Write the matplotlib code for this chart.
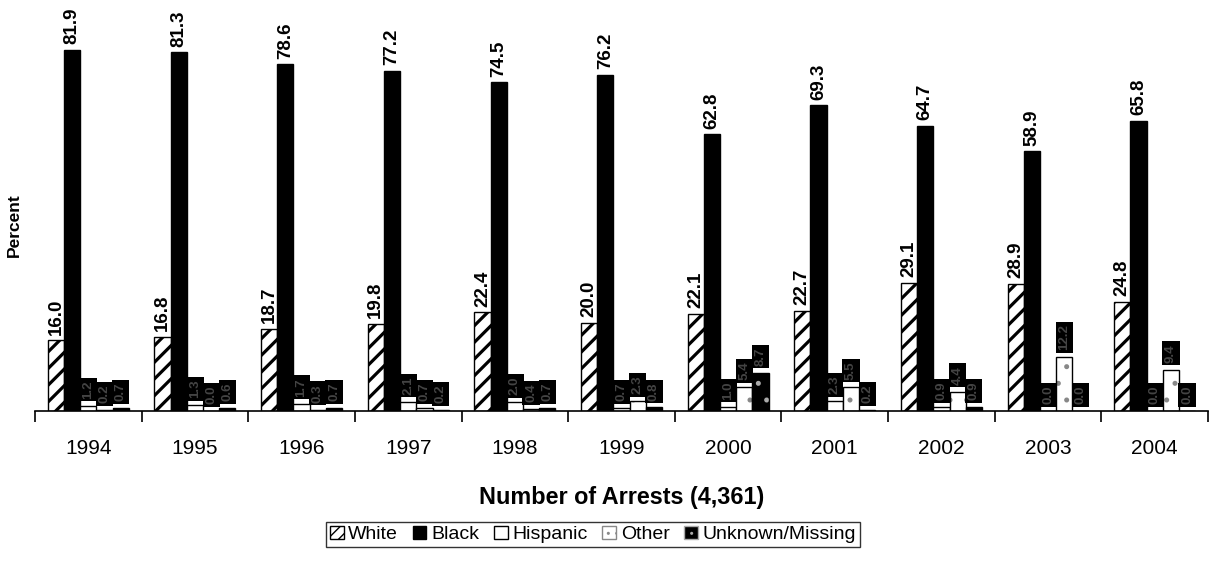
import matplotlib
matplotlib.use("Agg")
import matplotlib.pyplot as plt
import numpy as np
from matplotlib.patches import Patch

plt.rcParams['font.family'] = ['Liberation Sans', 'DejaVu Sans']

years = ['1994', '1995', '1996', '1997', '1998', '1999', '2000', '2001', '2002', '2003', '2004']
white = [16.0, 16.8, 18.7, 19.8, 22.4, 20.0, 22.1, 22.7, 29.1, 28.9, 24.8]
black = [81.9, 81.3, 78.6, 77.2, 74.5, 76.2, 62.8, 69.3, 64.7, 58.9, 65.8]
hispanic = [1.2, 1.3, 1.7, 2.1, 2.0, 0.7, 1.0, 2.3, 0.9, 0.0, 0.0]
other = [0.2, 0.0, 0.3, 0.7, 0.4, 2.3, 5.4, 5.5, 4.4, 12.2, 9.4]
unknown = [0.7, 0.6, 0.7, 0.2, 0.7, 0.8, 8.7, 0.2, 0.9, 0.0, 0.0]
series_names = ['White', 'Black', 'Hispanic', 'Other', 'Unknown/Missing']

fig = plt.figure(figsize=(12.11, 5.73), dpi=100)
ax = fig.add_axes([35/1211, 1 - 411/573, 1173/1211, 411/573])

x = np.arange(len(years))
w = 0.152
offsets = (np.arange(5) - 2) * w
data = [white, black, hispanic, other, unknown]

# White: hatched with thick diagonal stripes
with plt.rc_context({'hatch.linewidth': 2.3}):
    ax.bar(x + offsets[0], white, w, color='white', edgecolor='black', hatch='//', linewidth=1.0)
    wh_handle = Patch(facecolor='white', edgecolor='black', hatch='///', label='White')
# Black: solid
ax.bar(x + offsets[1], black, w, color='black', edgecolor='black', linewidth=1.0)
# Hispanic: white
ax.bar(x + offsets[2], hispanic, w, color='white', edgecolor='black', linewidth=1.0)
with plt.rc_context({'hatch.linewidth': 1.2}):
    # Other: white with grey dots
    ax.bar(x + offsets[3], other, w, color='white', edgecolor='#888888', hatch='.', linewidth=0)
    # Unknown: black with light dots
    ax.bar(x + offsets[4], unknown, w, color='black', edgecolor='#aaaaaa', hatch='.', linewidth=0)
    ot_handle = Patch(facecolor='white', edgecolor='#888888', hatch='..', label='Other')
    un_handle = Patch(facecolor='black', edgecolor='#aaaaaa', hatch='..', label='Unknown/Missing')
ax.bar(x + offsets[3], other, w, fill=False, edgecolor='black', linewidth=1.0)
ax.bar(x + offsets[4], unknown, w, fill=False, edgecolor='black', linewidth=1.0)

for i, vals in enumerate(data):
    for j, v in enumerate(vals):
        if i < 2:
            ax.annotate(f'{v:.1f}', (x[j] + offsets[i], v), xytext=(0, 4),
                        textcoords='offset points', rotation=90, ha='center', va='bottom',
                        fontsize=13.5, fontweight='bold', color='black')
        else:
            ax.annotate(f'{v:.1f}', (x[j] + offsets[i], v), xytext=(0, 5),
                        textcoords='offset points', rotation=90, ha='center', va='bottom',
                        fontsize=9.5, fontweight='bold', color='#444444',
                        bbox=dict(boxstyle='square,pad=0.2', facecolor='black', edgecolor='none'))

ax.set_xlim(-0.5, len(years) - 0.5)
ax.set_ylim(0, 93.2)
for s in ['top', 'right', 'left']:
    ax.spines[s].set_visible(False)
ax.spines['bottom'].set_linewidth(1.2)
ax.set_yticks([])
ax.set_xticks(np.arange(len(years) + 1) - 0.5, minor=True)
ax.set_xticks(x)
ax.set_xticklabels(years, fontsize=15)
ax.tick_params(axis='x', which='major', length=0, pad=20)
ax.tick_params(axis='x', which='minor', length=8, width=1.2, direction='out')
ax.set_xlabel('Number of Arrests (4,361)', fontsize=16.8, fontweight='bold', labelpad=20)
fig.text(14/1211, 1 - 225/573, 'Percent', rotation=90, ha='center', va='center',
         fontsize=12.5, fontweight='bold')

handles = [
    wh_handle,
    Patch(facecolor='black', edgecolor='black', label='Black'),
    Patch(facecolor='white', edgecolor='black', label='Hispanic'),
    ot_handle,
    un_handle,
]
leg = fig.legend(handles=handles, loc='center', bbox_to_anchor=(593/1211, 1 - 534.5/573),
                 ncol=5, fontsize=14, frameon=True, fancybox=False, edgecolor='black',
                 handlelength=0.7, handleheight=0.7, handletextpad=0.25, columnspacing=0.75,
                 borderpad=0.2, borderaxespad=0)
leg.get_frame().set_linewidth(1.0)

fig.savefig('out.png', dpi=100)
